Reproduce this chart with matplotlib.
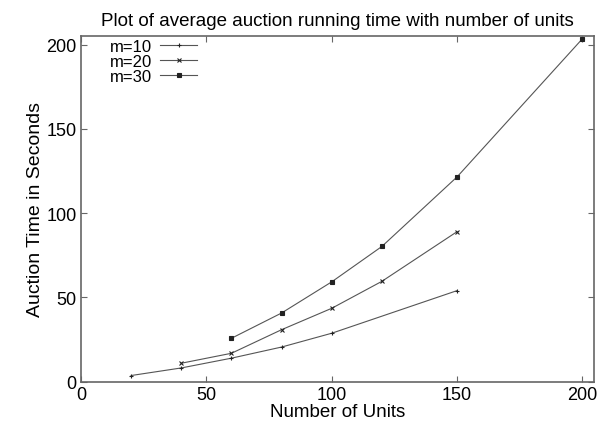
import matplotlib.pyplot as plt

plt.rcParams['font.family'] = ['Liberation Sans', 'DejaVu Sans']

units_m10 = [20, 40, 60, 80, 100, 150]
time_m10 = [3.6, 8.1, 13.9, 20.5, 28.7, 54]

units_m20 = [40, 60, 80, 100, 120, 150]
time_m20 = [10.9, 16.8, 30.8, 43.5, 59.5, 89]

units_m30 = [60, 80, 100, 120, 150, 200]
time_m30 = [25.7, 40.7, 59.2, 80.2, 121.5, 203.5]

fig = plt.figure(figsize=(6.09, 4.27), dpi=100)
ax = fig.add_axes([0.133, 0.104, 0.842, 0.809])

line_kw = dict(color='#555555', linewidth=0.8, markeredgecolor='#222222',
               markeredgewidth=0.8)
ax.plot(units_m10, time_m10, marker='+', markersize=3.5, label='m=10', **line_kw)
ax.plot(units_m20, time_m20, marker='x', markersize=2.5, label='m=20', **line_kw)
ax.plot(units_m30, time_m30, marker='s', markersize=2.2,
        markerfacecolor='#222222', label='m=30', **line_kw)

ax.set_xlim(0, 204.5)
ax.set_ylim(0, 205)
ax.set_xticks([0, 50, 100, 150, 200])
ax.set_yticks([0, 50, 100, 150, 200])
ax.tick_params(direction='in', top=True, right=True, length=4,
               color='#666666', labelsize=13, pad=3)
for s in ax.spines.values():
    s.set_color('#666666')
    s.set_linewidth(1.2)

ax.set_title('Plot of average auction running time with number of units',
             fontsize=13.5, pad=8)
ax.set_xlabel('Number of Units', fontsize=13.5, labelpad=0)
ax.set_ylabel('Auction Time in Seconds', fontsize=14, labelpad=2)

ax.legend(loc='upper left', bbox_to_anchor=(0.03, 1.03), frameon=False,
          markerfirst=False, fontsize=12, handlelength=2.2,
          labelspacing=0.0, handletextpad=0.5, borderpad=0.3)

fig.savefig('out.png', dpi=100)
